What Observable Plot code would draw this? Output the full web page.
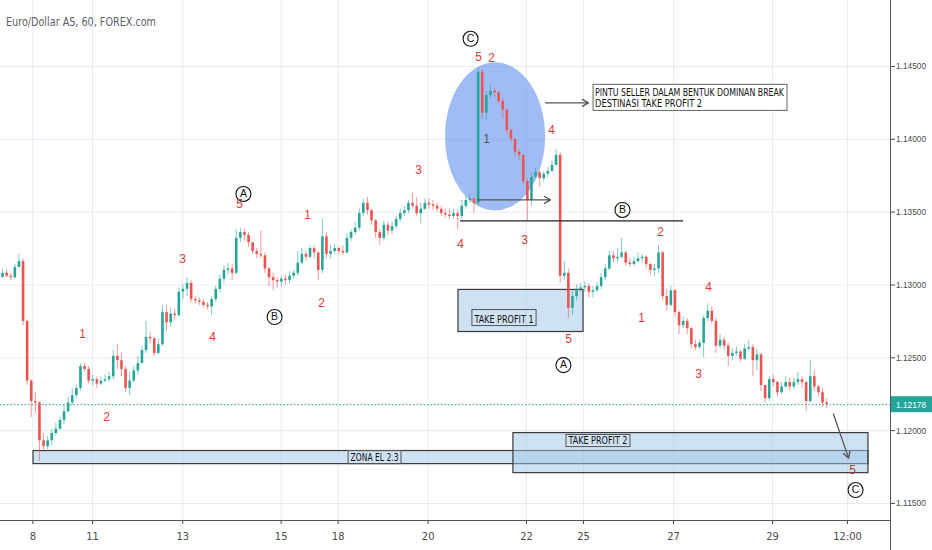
<!DOCTYPE html>
<html><head><meta charset="utf-8">
<script src="https://cdn.jsdelivr.net/npm/d3@7"></script>
<script src="https://cdn.jsdelivr.net/npm/@observablehq/plot@0.6"></script>
<style>html,body{margin:0;padding:0;background:#fff;}#chart{width:932px;height:550px;overflow:hidden;}</style>
</head><body><div id="chart"></div>
<script>
// ---- data: 2-hour candles ----
const firstOpen = 1.1305;
const closes = [
1.1308,1.1306,1.1305,1.1312,1.1316,1.1275,1.1234,1.1220,1.1219,1.1193,
1.1189,1.1193,1.1198,1.1201,1.1207,1.1213,1.1219,1.1224,1.1229,1.1244,
1.1242,1.1234,1.1235,1.1232,1.1234,1.1235,1.1237,1.1251,1.1248,1.1242,
1.1229,1.1234,1.1241,1.1246,1.1255,1.1264,1.1263,1.1253,1.1259,1.1281,
1.1274,1.1280,1.1279,1.1295,1.1297,1.1301,1.1290,1.1289,1.1288,1.1286,
1.1285,1.1290,1.1297,1.1304,1.1310,1.1311,1.1308,1.1332,1.1336,1.1334,
1.1329,1.1323,1.1321,1.1320,1.1311,1.1305,1.1303,1.1302,1.1304,1.1303,
1.1306,1.1308,1.1315,1.1321,1.1319,1.1325,1.1322,1.1310,1.1333,1.1321,
1.1323,1.1325,1.1323,1.1322,1.1332,1.1336,1.1339,1.1349,1.1356,1.1351,
1.1344,1.1336,1.1332,1.1341,1.1337,1.1340,1.1345,1.1349,1.1351,1.1356,
1.1354,1.1349,1.1352,1.1356,1.1355,1.1354,1.1352,1.1349,1.1348,1.1347,
1.1349,1.1347,1.1354,1.1358,1.1359,1.1356,1.1446,1.1418,1.1430,1.1433,
1.1432,1.1426,1.1420,1.1406,1.1400,1.1391,1.1389,1.1371,1.1358,1.1374,
1.1377,1.1373,1.1376,1.1378,1.1382,1.1389,1.1306,1.1308,1.1284,1.1292,
1.1297,1.1298,1.1299,1.1295,1.1296,1.1299,1.1305,1.1311,1.1320,1.1318,
1.1319,1.1322,1.1315,1.1314,1.1316,1.1318,1.1319,1.1314,1.1310,1.1311,
1.1322,1.1292,1.1286,1.1296,1.1281,1.1272,1.1275,1.1270,1.1259,1.1257,
1.1260,1.1277,1.1282,1.1275,1.1258,1.1262,1.1258,1.1251,1.1253,1.1254,
1.1249,1.1256,1.1257,1.1248,1.1252,1.1231,1.1222,1.1235,1.1233,1.1226,
1.1230,1.1233,1.1230,1.1233,1.1235,1.1233,1.1220,1.1237,1.1230,1.1226,
1.1219,1.12178];
const highs = [
1.1311,1.1310,1.1308,1.1314,1.1321,1.1318,1.1276,1.1235,1.1226,1.1220,
1.1198,1.1196,1.1201,1.1205,1.1209,1.1217,1.1223,1.1229,1.1231,1.1246,
1.1246,1.1244,1.1238,1.1237,1.1237,1.1238,1.1240,1.1255,1.1259,1.1253,
1.1244,1.1240,1.1244,1.1251,1.1258,1.1275,1.1267,1.1264,1.1263,1.1286,
1.1286,1.1284,1.1283,1.1298,1.1300,1.1305,1.1303,1.1292,1.1291,1.1290,
1.1288,1.1292,1.1299,1.1307,1.1313,1.1315,1.1314,1.1338,1.1339,1.1338,
1.1336,1.1327,1.1325,1.1337,1.1322,1.1312,1.1308,1.1305,1.1306,1.1307,
1.1309,1.1310,1.1323,1.1325,1.1323,1.1327,1.1327,1.1323,1.1345,1.1336,
1.1327,1.1328,1.1326,1.1327,1.1335,1.1338,1.1343,1.1352,1.1359,1.1360,
1.1352,1.1345,1.1338,1.1344,1.1343,1.1343,1.1347,1.1352,1.1354,1.1358,
1.1363,1.1360,1.1356,1.1359,1.1359,1.1358,1.1356,1.1354,1.1352,1.1352,
1.1352,1.1351,1.1358,1.1361,1.1362,1.1360,1.1449,1.1448,1.1432,1.1437,
1.1435,1.1433,1.1428,1.1421,1.1407,1.1400,1.1393,1.1389,1.1373,1.1377,
1.1380,1.1378,1.1378,1.1381,1.1385,1.1393,1.1391,1.1316,1.1311,1.1296,
1.1300,1.1301,1.1302,1.1301,1.1299,1.1302,1.1308,1.1314,1.1323,1.1323,
1.1325,1.1332,1.1323,1.1318,1.1319,1.1322,1.1321,1.1320,1.1315,1.1314,
1.1327,1.1323,1.1297,1.1299,1.1297,1.1282,1.1278,1.1277,1.1271,1.1262,
1.1262,1.1279,1.1287,1.1285,1.1277,1.1266,1.1264,1.1260,1.1256,1.1257,
1.1255,1.1259,1.1262,1.1259,1.1256,1.1253,1.1231,1.1237,1.1238,1.1234,
1.1233,1.1237,1.1236,1.1236,1.1240,1.1237,1.1234,1.1248,1.1241,1.1231,
1.1229,1.1222];
const lows = [
1.1305,1.1305,1.1303,1.1304,1.1312,1.1272,1.1231,1.1209,1.1212,1.1179,
1.1185,1.1187,1.1190,1.1196,1.1200,1.1204,1.1212,1.1217,1.1222,1.1227,
1.1240,1.1232,1.1231,1.1229,1.1231,1.1233,1.1233,1.1235,1.1242,1.1237,
1.1226,1.1224,1.1233,1.1238,1.1246,1.1253,1.1260,1.1251,1.1252,1.1258,
1.1268,1.1271,1.1276,1.1278,1.1290,1.1292,1.1288,1.1287,1.1286,1.1284,
1.1283,1.1279,1.1288,1.1295,1.1301,1.1307,1.1303,1.1307,1.1329,1.1330,
1.1326,1.1321,1.1318,1.1318,1.1308,1.1299,1.1296,1.1298,1.1299,1.1300,
1.1301,1.1304,1.1306,1.1314,1.1316,1.1318,1.1318,1.1303,1.1308,1.1318,
1.1318,1.1321,1.1321,1.1320,1.1321,1.1330,1.1334,1.1337,1.1347,1.1348,
1.1341,1.1332,1.1327,1.1330,1.1334,1.1335,1.1338,1.1343,1.1347,1.1349,
1.1352,1.1347,1.1342,1.1351,1.1352,1.1351,1.1350,1.1347,1.1346,1.1345,
1.1345,1.1338,1.1345,1.1352,1.1356,1.1349,1.1354,1.1414,1.1413,1.1428,
1.1429,1.1424,1.1414,1.1403,1.1398,1.1388,1.1385,1.1369,1.1344,1.1354,
1.1373,1.1367,1.1370,1.1374,1.1377,1.1382,1.1301,1.1303,1.1277,1.1279,
1.1289,1.1295,1.1295,1.1291,1.1291,1.1295,1.1297,1.1303,1.1310,1.1315,
1.1315,1.1318,1.1313,1.1312,1.1313,1.1315,1.1315,1.1311,1.1307,1.1306,
1.1308,1.1289,1.1282,1.1285,1.1278,1.1266,1.1270,1.1266,1.1256,1.1255,
1.1256,1.1250,1.1275,1.1273,1.1253,1.1256,1.1255,1.1244,1.1248,1.1251,
1.1247,1.1248,1.1254,1.1237,1.1241,1.1227,1.1219,1.1220,1.1230,1.1223,
1.1225,1.1229,1.1227,1.1228,1.1231,1.1229,1.1213,1.1219,1.1227,1.1223,
1.1216,1.1215];
const barHours = 2;                       // each candle drawn = 2 hours
const tickHours  = [15.8, 44.9, 88.9, 136.9, 164.7, 208.6, 256.6, 284.4, 328.3, 376.6, 413.2];
const tickLabels = ["8", "11", "13", "15", "18", "20", "22", "25", "27", "29", "12:00"];
const priceTicks = [1.115, 1.120, 1.125, 1.130, 1.135, 1.140, 1.145];
const titleText = "Euro/Dollar AS, 60, FOREX.com";

// ---- annotations (in time-hours / price coordinates) ----
const ellipseZone = {h1: 217.1, h2: 265.9, p1: 1.14525, p2: 1.13508};
const zones = [
  {name: "ZONA EL 2.3",   h1: 16.1,  h2: 423.4, p1: 1.1186,  p2: 1.1177},
  {name: "TAKE PROFIT 2", h1: 250.2, h2: 423.4, p1: 1.11983, p2: 1.11708},
  {name: "TAKE PROFIT 1", h1: 223.4, h2: 284.4, p1: 1.12966, p2: 1.12677}
];
const labelBoxes = [
  {text: "TAKE PROFIT 1", h1: 230.2, h2: 261.5, p1: 1.12828, p2: 1.12718},
  {text: "TAKE PROFIT 2", h1: 276.1, h2: 307.3, p1: 1.11970, p2: 1.11887},
  {text: "ZONA EL 2.3",   h1: 169.8, h2: 195.6, p1: 1.11860, p2: 1.11770}
];
const noteBox = {h1: 289.3, h2: 383.9, p1: 1.14374, p2: 1.14195,
  lines: ["PINTU SELLER DALAM BENTUK DOMINAN BREAK", "DESTINASI TAKE PROFIT 2"]};
const bLevel = [{p: 1.1344, h1: 224.4, h2: 333.2}];
const arrows = [
  {h1: 232.7, p1: 1.13584, h2: 268.3, p2: 1.13584},
  {h1: 265.9, p1: 1.1425,  h2: 286.8, p2: 1.1425},
  {h1: 406.3, p1: 1.12114, h2: 413.7, p2: 1.11811}
];
const circleLabels = [
  {t: "C", h: 229.3, p: 1.1469}, {t: "A", h: 118.5, p: 1.13625},
  {t: "B", h: 133.7, p: 1.1278}, {t: "B", h: 303.4, p: 1.13515},
  {t: "A", h: 274.6, p: 1.1245}, {t: "C", h: 417.1, p: 1.11592}
];
const waveLabels = [
  {t: "1", h: 40.0, p: 1.12663}, {t: "2", h: 51.7, p: 1.12093},
  {t: "3", h: 88.8, p: 1.13179}, {t: "4", h: 103.4, p: 1.12643},
  {t: "5", h: 116.6, p: 1.13556}, {t: "1", h: 149.8, p: 1.13481},
  {t: "2", h: 156.6, p: 1.12876}, {t: "3", h: 203.9, p: 1.1379},
  {t: "4", h: 224.4, p: 1.13282}, {t: "5", h: 233.2, p: 1.14566},
  {t: "2", h: 239.5, p: 1.14559}, {t: "4", h: 268.8, p: 1.14065},
  {t: "3", h: 255.6, p: 1.13309}, {t: "5", h: 277.1, p: 1.12629},
  {t: "2", h: 322.0, p: 1.13364}, {t: "1", h: 312.7, p: 1.12773},
  {t: "4", h: 345.4, p: 1.12986}, {t: "3", h: 340.5, p: 1.12389}
];
const greyLabels = [{t: "1", h: 237.1, p: 1.14003}];
const brownLabels = [{t: "5", h: 415.6, p: 1.11729}];

// ---- build ----
const UP = "#26a69a", DOWN = "#ef5350";
const candles = closes.map((c, i) => ({
  t: i * barHours + barHours / 2,
  open: i === 0 ? firstOpen : closes[i - 1],
  close: c, high: highs[i], low: lows[i]
}));
const upC = candles.filter(d => d.close >= d.open);
const downC = candles.filter(d => d.close < d.open);
const lastClose = closes[closes.length - 1];
const labelByHour = new Map(tickHours.map((h, i) => [h, tickLabels[i]]));
const FONT = "'Liberation Sans Narrow','DejaVu Sans Condensed','DejaVu Sans',sans-serif";
const AXFONT = "'Liberation Sans',Arial,sans-serif";
const NS = "http://www.w3.org/2000/svg";
function el(tag, attrs, text) {
  const e = document.createElementNS(NS, tag);
  for (const k in attrs) e.setAttribute(k, attrs[k]);
  if (text != null) e.textContent = text;
  return e;
}

const ellipseMark = (index, s) => {
  const g = el("g", {});
  const x1 = s.x(ellipseZone.h1), x2 = s.x(ellipseZone.h2);
  const y1 = s.y(ellipseZone.p1), y2 = s.y(ellipseZone.p2);
  g.appendChild(el("ellipse", {cx: (x1 + x2) / 2, cy: (y1 + y2) / 2, rx: Math.abs(x2 - x1) / 2,
    ry: Math.abs(y2 - y1) / 2, fill: "#6494ee", "fill-opacity": 0.62}));
  return g;
};

const labelsMark = (index, s) => {
  const g = el("g", {"font-family": FONT, "font-size": 10, "text-anchor": "start"});
  for (const b of labelBoxes) {
    const x1 = s.x(b.h1), x2 = s.x(b.h2), y1 = s.y(b.p1), y2 = s.y(b.p2);
    g.appendChild(el("rect", {x: x1, y: Math.min(y1, y2), width: x2 - x1, height: Math.abs(y2 - y1),
      fill: "none", stroke: "#555", "stroke-width": 1}));
    g.appendChild(el("text", {x: x1 + 2.5, y: Math.max(y1, y2) - 3, textLength: x2 - x1 - 5,
      lengthAdjust: "spacingAndGlyphs", fill: "#111"}, b.text));
  }
  // note box
  const x1 = s.x(noteBox.h1), x2 = s.x(noteBox.h2), y1 = s.y(noteBox.p1), y2 = s.y(noteBox.p2);
  g.appendChild(el("rect", {x: x1, y: y1, width: x2 - x1, height: y2 - y1, fill: "#fff", stroke: "#666", "stroke-width": 1}));
  g.appendChild(el("text", {x: x1 + 2, y: y1 + 11.5, textLength: x2 - x1 - 5, lengthAdjust: "spacingAndGlyphs", fill: "#111"}, noteBox.lines[0]));
  g.appendChild(el("text", {x: x1 + 2, y: y1 + 22.5, textLength: 107, lengthAdjust: "spacingAndGlyphs", fill: "#111"}, noteBox.lines[1]));
  return g;
};

const frameMark = (index, s, v, dim) => {
  const g = el("g", {"font-family": FONT, "text-anchor": "start"});
  const W = dim.width, H = dim.height, xr = W - dim.marginRight, yb = H - dim.marginBottom;
  g.appendChild(el("line", {x1: 0, x2: xr, y1: yb + 0.5, y2: yb + 0.5, stroke: "#50535e", "stroke-width": 1}));
  g.appendChild(el("line", {x1: xr + 0.5, x2: xr + 0.5, y1: 0, y2: H, stroke: "#50535e", "stroke-width": 1}));
  for (const p of priceTicks) {
    g.appendChild(el("text", {x: xr + 6, y: s.y(p) + 3.5, "font-size": 9.5, "font-family": AXFONT, fill: "#4a4a4a",
      textLength: 30, lengthAdjust: "spacingAndGlyphs"}, d3.format(".5f")(p)));
  }
  const yl = s.y(lastClose);
  g.appendChild(el("rect", {x: xr + 1, y: yl - 8, width: dim.marginRight - 1, height: 16, fill: UP}));
  g.appendChild(el("text", {x: xr + 6, y: yl + 3.5, "font-size": 9.5, "font-family": AXFONT, fill: "#fff",
    textLength: 30, lengthAdjust: "spacingAndGlyphs"}, d3.format(".5f")(lastClose)));
  g.appendChild(el("text", {x: 6, y: 26, "font-size": 12.5, fill: "#5d606b",
    textLength: 150, lengthAdjust: "spacingAndGlyphs"}, titleText));
  return g;
};

const plot = Plot.plot({
  width: 932, height: 550,
  marginLeft: 0, marginRight: 42, marginTop: 0, marginBottom: 30,
  style: {fontFamily: FONT, fontSize: "11px", color: "#4a4a4a", background: "#fff", overflow: "visible"},
  x: {domain: [0, 434.146], ticks: tickHours, tickFormat: d => labelByHour.get(d) ?? "",
      tickSize: 4, tickPadding: 8, label: null},
  y: {domain: [1.11383, 1.14953], axis: "right", ticks: priceTicks, tickFormat: () => "",
      tickSize: 4, label: null},
  marks: [
    Plot.ruleX(tickHours, {stroke: "#e6ecf4", strokeWidth: 1}),
    Plot.ruleY(priceTicks, {stroke: "#e6ecf4", strokeWidth: 1}),
    ellipseMark,
    Plot.rect(zones, {x1: "h1", x2: "h2", y1: "p1", y2: "p2", fill: "#9fc5e8", fillOpacity: 0.5,
      stroke: "#3a3a3a", strokeWidth: 1.2}),
    Plot.ruleY([lastClose], {stroke: UP, strokeWidth: 1, strokeDasharray: "1.5,2"}),
    Plot.ruleX(upC, {x: "t", y1: "low", y2: "high", stroke: UP, strokeOpacity: 0.6}),
    Plot.ruleX(downC, {x: "t", y1: "low", y2: "high", stroke: DOWN, strokeOpacity: 0.6}),
    Plot.ruleX(upC, {x: "t", y1: "open", y2: "close", stroke: UP, strokeWidth: 2.6}),
    Plot.ruleX(downC, {x: "t", y1: "open", y2: "close", stroke: DOWN, strokeWidth: 2.6}),
    Plot.ruleY(bLevel, {y: "p", x1: "h1", x2: "h2", stroke: "#222", strokeWidth: 1.3}),
    Plot.arrow(arrows, {x1: "h1", y1: "p1", x2: "h2", y2: "p2", stroke: "#555", strokeWidth: 1.3, headLength: 8}),
    labelsMark,
    Plot.dot(circleLabels, {x: "h", y: "p", r: 7.5, stroke: "#111", strokeWidth: 1.1, fill: "none"}),
    Plot.text(circleLabels, {x: "h", y: "p", text: "t", fontSize: 10.5, fill: "#111", fontFamily: "'Liberation Sans',sans-serif"}),
    Plot.text(waveLabels, {x: "h", y: "p", text: "t", fontSize: 12, fill: "#e53935", fontFamily: "'Liberation Sans',sans-serif"}),
    Plot.text(greyLabels, {x: "h", y: "p", text: "t", fontSize: 12, fill: "#555", fontFamily: "'Liberation Sans',sans-serif"}),
    Plot.text(brownLabels, {x: "h", y: "p", text: "t", fontSize: 12, fill: "#b0443c", fontFamily: "'Liberation Sans',sans-serif"}),
    frameMark
  ]
});
document.getElementById("chart").appendChild(plot);
</script>
</body></html>
